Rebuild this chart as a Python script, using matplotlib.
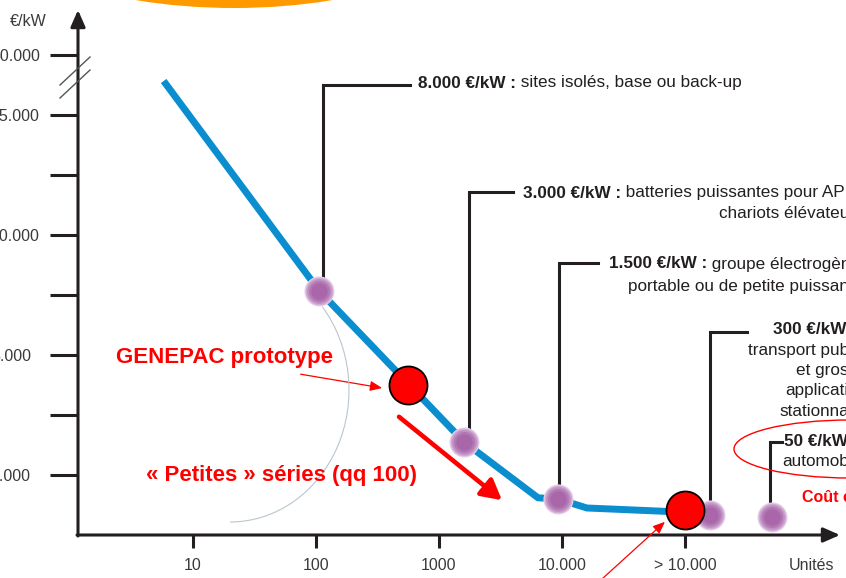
import matplotlib
matplotlib.use('Agg')
import matplotlib.pyplot as plt
import matplotlib.transforms as mtransforms
from matplotlib.patches import Ellipse, Arc
from matplotlib.ticker import NullLocator

# courbe de coût (x = unités produites, y = graduations de l'axe €/kW, échelle schématique)
courbe_unites = [6, 106, 1600, 6380, 9270, 15960, 100000]
courbe_cout = [7.52, 4.07, 1.55, 0.62, 0.60, 0.45, 0.38]

# jalons (points violets)
jalons_unites = [106, 1600, 9270, 160000, 510000]
jalons_cout = [4.07, 1.55, 0.60, 0.33, 0.30]
jalons_prix = ['8.000 €/kW :', '3.000 €/kW :', '1.500 €/kW :', '300 €/kW :', '50 €/kW :']

# GENEPAC (points rouges)
genepac_unites = [560, 100000]
genepac_cout = [2.50, 0.42]

x_ticks = [10, 100, 1000, 10000, 100000]
x_labels = ['10', '100', '1000', '10.000', '> 10.000']
y_ticks = [1, 2, 3, 4, 5, 6, 7, 8]
y_labels = ['1.000', '', '5.000', '', '10.000', '', '15.000', '50.000']

# mise en page des renvois (abscisse du trait vertical, hauteur du coude, fin du trait horizontal)
renvoi_x = [114, 1750, 9460, 159600, 491000]
renvoi_haut = [7.5, 5.72, 4.53, 3.38, 1.55]
renvoi_fin = [581, 4000, 19630, 319000, 615000]

W, H = 846, 578
noir = '#231f20'
gris = '#3a3a3a'
rouge = '#ff0000'
taille_txt = 12.3

plt.rcParams['font.family'] = ['Liberation Sans', 'DejaVu Sans']

fig = plt.figure(figsize=(W / 100, H / 100), dpi=100)
# coordonnées en pixels (origine en haut à gauche) pour le décor
px = mtransforms.Affine2D().scale(1 / W, -1 / H).translate(0, 1) + fig.transFigure

ax = fig.add_axes([78 / W, 43 / H, 768 / W, 535 / H])
ax.patch.set_visible(False)
ax.set_xscale('log')
ax.set_xlim(10 ** 0.065, 10 ** 6.309)
ax.set_ylim(0, 535 / 60)
for s in ax.spines.values():
    s.set_visible(False)

ax.set_xticks(x_ticks, x_labels)
ax.xaxis.set_minor_locator(NullLocator())
ax.set_yticks(y_ticks, y_labels)
ax.tick_params(axis='x', direction='out', length=9.5, width=2.2, color=noir,
               labelsize=11.5, labelcolor=gris, pad=7)
ax.tick_params(axis='y', direction='out', length=20, width=2.2, color=noir,
               labelsize=11.5, labelcolor=gris, pad=42.6)
for t in ax.get_yticklabels():
    t.set_horizontalalignment('left')

# axes fléchés
fleche = dict(arrowstyle='-|>,head_length=0.5,head_width=0.22', lw=2.2, color=noir,
              mutation_scale=20, shrinkA=0, shrinkB=0)
ax.annotate('', xy=(78, 10), xytext=(78, 536), xycoords=px, textcoords=px, arrowprops=fleche)
ax.annotate('', xy=(840, 535), xytext=(77, 535), xycoords=px, textcoords=px, arrowprops=fleche)
# coupure de l'axe
for dy in (0, 13):
    fig.add_artist(plt.Line2D([60, 90], [85 + dy, 57 + dy], transform=px, color='#555555', lw=1))

fig.text(28, 21, '€/kW', transform=px, ha='center', va='center', fontsize=11.5, color=gris)
fig.text(812, 565, 'Unités', transform=px, ha='center', va='center', fontsize=11.5, color=gris)

# bandeau orange du titre
fig.add_artist(Ellipse((234, -90), 500, 196, transform=px, fc='#ff9900', ec='none'))
# arc gris clair
fig.add_artist(Arc((230, 390), 238, 264, theta1=-42, theta2=90, transform=px, color='#b9c6cf', lw=0.8))
# ellipse rouge autour de 50 €/kW
fig.add_artist(Ellipse((850, 449), 232, 58, transform=px, fc='none', ec=rouge, lw=1))

# renvois vers les textes
for x, c, h, f in zip(renvoi_x, jalons_cout, renvoi_haut, renvoi_fin):
    ax.plot([x, x, f], [c, h, h], color=noir, lw=2.2, solid_joinstyle='miter', zorder=2)

# courbe bleue
ax.plot(courbe_unites, courbe_cout, color='#0b8ed0', lw=5, solid_joinstyle='round', zorder=3)

# points violets (dégradé)
for taille, coul in zip([470, 400, 320, 230, 140],
                        ['#e6d3e8', '#d2acd4', '#c090c2', '#b278b4', '#a967aa']):
    ax.scatter(jalons_unites, jalons_cout, s=taille, color=coul, lw=0, zorder=4)

# points rouges GENEPAC
ax.scatter(genepac_unites, genepac_cout, s=750, color=rouge, edgecolor='black', lw=1.3, zorder=5)


def etiquette(x, y, gras, suite=''):
    t = fig.text(x, y, gras, transform=px, va='center', ha='left', fontsize=taille_txt,
                 fontweight='bold', color=noir)
    if suite:
        ax.annotate(suite, xy=(1, 0.5), xycoords=t, va='center', ha='left',
                    fontsize=taille_txt, color=noir)


def ligne(y, visible, reste):
    # la ligne est coupée au bord droit, comme sur la diapositive
    t = fig.text(849, y, visible, transform=px, va='center', ha='right', fontsize=taille_txt, color=noir)
    ax.annotate(reste, xy=(1, 0.5), xycoords=t, va='center', ha='left', fontsize=taille_txt, color=noir)


etiquette(418, 83, jalons_prix[0], ' sites isolés, base ou back-up')
etiquette(523, 193, jalons_prix[1], ' batteries puissantes pour APU,')
ligne(213, 'chariots élévateu', 'rs')
etiquette(609, 264, jalons_prix[2], ' groupe électrogène')
ligne(286, 'portable ou de petite puissan', 'ce')
etiquette(773, 329, jalons_prix[3])
ligne(350, 'transport pub', 'lic')
ligne(370, 'et gros', ' véhicules')
ligne(390, 'applicati', 'ons')
ligne(411, 'stationna', 'ires')
etiquette(784, 442, jalons_prix[4])
ligne(462, 'automob', 'ile')
fig.text(802, 497, 'Coût cible', transform=px, va='center', ha='left', fontsize=11.5,
         fontweight='bold', color=rouge)

# annotations rouges
fig.text(116, 357, 'GENEPAC prototype', transform=px, va='center', ha='left', fontsize=16,
         fontweight='bold', color=rouge)
fig.text(146, 475, '« Petites » séries (qq 100)', transform=px, va='center', ha='left', fontsize=16,
         fontweight='bold', color=rouge)
ax.annotate('', xy=(345, 2.45), xytext=(75, 2.68),
            arrowprops=dict(arrowstyle='-|>,head_length=0.6,head_width=0.25', lw=0.9, color=rouge,
                            mutation_scale=12, shrinkA=0, shrinkB=0))
ax.annotate('', xy=(3250, 0.58), xytext=(473, 1.97),
            arrowprops=dict(arrowstyle='-|>,head_length=0.55,head_width=0.3', lw=3.3, color=rouge,
                            mutation_scale=22, shrinkA=0, shrinkB=0))
ax.annotate('', xy=(68700, 0.22), xytext=(21500, -0.72), annotation_clip=False,
            arrowprops=dict(arrowstyle='-|>,head_length=0.6,head_width=0.25', lw=0.9, color=rouge,
                            mutation_scale=12, shrinkA=0, shrinkB=0))

fig.savefig('out.png', dpi=100)
